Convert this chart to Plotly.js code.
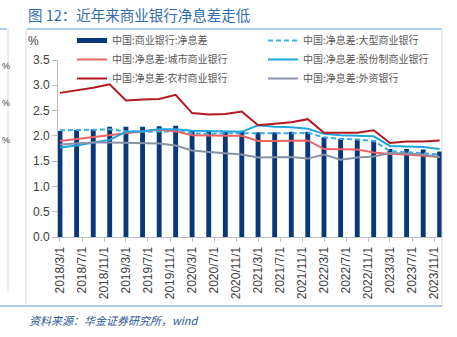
<!DOCTYPE html>
<html>
<head>
<meta charset="utf-8">
<script src="https://cdn.plot.ly/plotly-3.0.1.min.js"></script>
<style>
html,body{margin:0;padding:0;background:#fff;}
#chart{width:457px;height:337px;}
</style>
</head>
<body>
<div id="chart"></div>
<script>
// ---- data ----
const quarters = [
  '2018-03-01','2018-06-01','2018-09-01','2018-12-01',
  '2019-03-01','2019-06-01','2019-09-01','2019-12-01',
  '2020-03-01','2020-06-01','2020-09-01','2020-12-01',
  '2021-03-01','2021-06-01','2021-09-01','2021-12-01',
  '2022-03-01','2022-06-01','2022-09-01','2022-12-01',
  '2023-03-01','2023-06-01','2023-09-01','2023-12-01'
];
const commercialNIM = [2.10,2.12,2.13,2.18, 2.18,2.18,2.19,2.20, 2.10,2.09,2.09,2.10, 2.07,2.07,2.08,2.08, 1.97,1.94,1.94,1.91, 1.74,1.74,1.73,1.69];
const largeNIM      = [2.11,2.11,2.12,2.13, 2.09,2.08,2.08,2.09, 2.05,2.04,2.05,2.05, 2.04,2.04,2.05,2.06, 1.97,1.94,1.93,1.90, 1.70,1.68,1.66,1.63];
const cityNIM       = [1.90,1.94,1.98,2.02, 2.06,2.09,2.12,2.09, 2.01,2.00,2.00,2.00, 1.90,1.90,1.90,1.91, 1.74,1.73,1.73,1.67, 1.64,1.63,1.61,1.58];
const jointNIM      = [1.77,1.81,1.87,1.92, 2.08,2.09,2.13,2.13, 2.10,2.09,2.09,2.08, 2.21,2.18,2.17,2.14, 2.04,2.01,2.00,1.99, 1.80,1.79,1.78,1.74];
const ruralNIM      = [2.85,2.90,2.95,3.02, 2.70,2.72,2.73,2.81, 2.45,2.42,2.43,2.48, 2.21,2.24,2.27,2.33, 2.06,2.06,2.06,2.11, 1.86,1.89,1.89,1.91];
const foreignNIM    = [1.83,1.85,1.87,1.87, 1.86,1.86,1.85,1.81, 1.71,1.68,1.65,1.63, 1.57,1.57,1.58,1.55, 1.63,1.53,1.57,1.59, 1.66,1.65,1.63,1.58];
const seriesNames = ['中国:商业银行:净息差','中国:净息差:大型商业银行','中国:净息差:城市商业银行','中国:净息差:股份制商业银行','中国:净息差:农村商业银行','中国:净息差:外资银行'];
const tickDates = ['2018-03-01','2018-07-01','2018-11-01','2019-03-01','2019-07-01','2019-11-01','2020-03-01','2020-07-01','2020-11-01','2021-03-01','2021-07-01','2021-11-01','2022-03-01','2022-07-01','2022-11-01','2023-03-01','2023-07-01','2023-11-01'];
const tickLabels = ['2018/3/1','2018/7/1','2018/11/1','2019/3/1','2019/7/1','2019/11/1','2020/3/1','2020/7/1','2020/11/1','2021/3/1','2021/7/1','2021/11/1','2022/3/1','2022/7/1','2022/11/1','2023/3/1','2023/7/1','2023/11/1'];

// ---- geometry helpers (pixel -> paper) ----
const W = 457, H = 337;
const mL = 58, mR = 15, mT = 60, mB = 100;
const pw = W - mL - mR, ph = H - mT - mB;
const px = x => (x - mL) / pw;
const py = y => (H - mB - y) / ph;

const barColor = '#0a3778';
const cjk = '"Noto Sans CJK SC", "Liberation Sans", sans-serif';
const lat = '"Liberation Sans", Arial, sans-serif';

const traces = [
  {type:'bar', x:quarters, y:commercialNIM, name:seriesNames[0], legendgroup:'bar', showlegend:false,
   marker:{color:barColor, line:{width:0}}, width:27*86400000},
  {type:'scatter', mode:'lines', x:[null], y:[null], name:seriesNames[0], legendgroup:'bar',
   line:{color:barColor, width:5}},
  {type:'scatter', mode:'lines', x:quarters, y:largeNIM, name:seriesNames[1],
   line:{color:'#39aee8', width:2, dash:'5px,3px'}},
  {type:'scatter', mode:'lines', x:quarters, y:cityNIM, name:seriesNames[2],
   line:{color:'#ef6264', width:2}},
  {type:'scatter', mode:'lines', x:quarters, y:jointNIM, name:seriesNames[3],
   line:{color:'#1ea5e0', width:2}},
  {type:'scatter', mode:'lines', x:quarters, y:ruralNIM, name:seriesNames[4],
   line:{color:'#b3191e', width:2}},
  {type:'scatter', mode:'lines', x:quarters, y:foreignNIM, name:seriesNames[5],
   line:{color:'#8a91a8', width:2}}
];

const lineShape = (x0,y0,x1,y1,color) => ({type:'line', xref:'paper', yref:'paper',
  x0:px(x0), y0:py(y0), x1:px(x1), y1:py(y1), line:{color:color, width:1}});

const pctNote = y => ({xref:'paper', yref:'paper', x:px(0), y:py(y), text:'%', showarrow:false,
  xanchor:'left', yanchor:'middle', font:{family:lat, size:9, color:'#404040'}});

const layout = {
  width:W, height:H,
  margin:{l:mL, r:mR, t:mT, b:mB, pad:0, autoexpand:false},
  paper_bgcolor:'#ffffff', plot_bgcolor:'#ffffff',
  font:{family:lat, size:12, color:'#404040'},
  title:{text:'图 12：近年来商业银行净息差走低', xref:'container', yref:'container',
    x:28/W, xanchor:'left', y:1-16/H, yanchor:'middle',
    font:{family:cjk, size:14.5, color:'#2f6db3'}},
  showlegend:true,
  legend:{orientation:'h', xref:'container', yref:'container', x:72/W, xanchor:'left', y:1-26/H, yanchor:'top',
    entrywidth:146, entrywidthmode:'pixels', bgcolor:'rgba(0,0,0,0)', borderwidth:0,
    font:{family:cjk, size:10, color:'#595959'}, traceorder:'normal'},
  xaxis:{type:'date', range:['2018-02-18','2023-12-14'], tickvals:tickDates, ticktext:tickLabels,
    tickangle:-90, ticks:'outside', ticklen:4, tickcolor:'#bfbfbf', showline:true, linecolor:'#bfbfbf',
    showgrid:false, zeroline:false, tickfont:{family:lat, size:12, color:'#404040'}},
  yaxis:{range:[0,3.5], dtick:0.5, tick0:0, tickformat:'.1f', ticks:'outside', ticklen:5, tickcolor:'#bfbfbf',
    showline:true, linecolor:'#bfbfbf', showgrid:false, zeroline:false,
    tickfont:{family:lat, size:12, color:'#404040'}},
  annotations:[
    {xref:'paper', yref:'paper', x:px(33), y:py(41), text:'%', showarrow:false, xanchor:'center', yanchor:'middle',
     font:{family:lat, size:12, color:'#404040'}},
    {xref:'paper', yref:'paper', x:px(27), y:py(320), text:'<i>资料来源：华金证券研究所，wind</i>', showarrow:false,
     xanchor:'left', yanchor:'middle', font:{family:cjk, size:11, color:'#2f5597'}},
    pctNote(66), pctNote(103), pctNote(140)
  ],
  shapes:[
    lineShape(27,29,442,29,'#5b9bd5'),
    lineShape(0,29,7,29,'#5b9bd5'),
    lineShape(0,306,442,306,'#5b9bd5'),
    lineShape(26,29,26,306,'#d9d9d9'),
    lineShape(442,29,442,306,'#d9d9d9'),
    lineShape(8,29,8,292,'#d9d9d9')
  ]
};

Plotly.newPlot('chart', traces, layout, {staticPlot:true, displayModeBar:false});
</script>
</body>
</html>
